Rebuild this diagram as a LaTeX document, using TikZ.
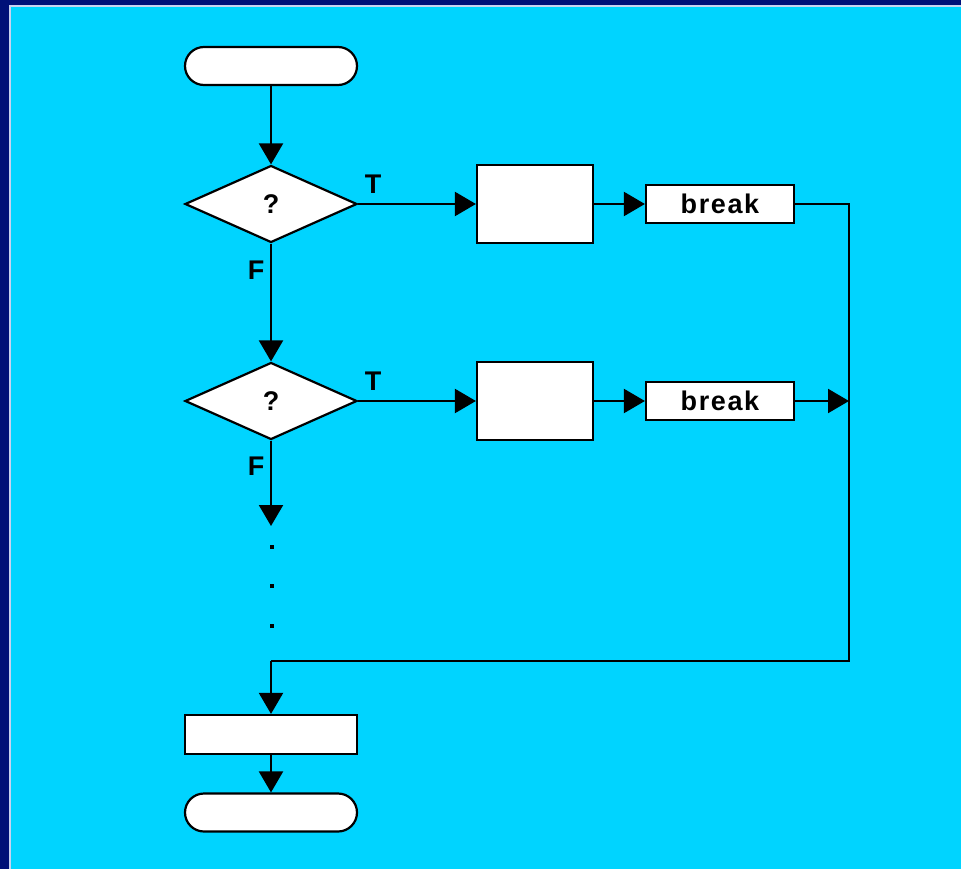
\documentclass[tikz,border=0pt]{standalone}
\usepackage{fontspec}
\setmainfont{Liberation Sans}
\newfontfamily\spacedfont[LetterSpace=6]{Liberation Sans}
\usetikzlibrary{shapes.geometric,arrows.meta}
\definecolor{navyb}{RGB}{0,16,120}
\definecolor{cyanbg}{RGB}{0,212,255}
\definecolor{edgeline}{RGB}{200,210,240}
\begin{document}
\begin{tikzpicture}[x=1pt,y=-1pt,
  every node/.style={font=\fontsize{27}{30}\selectfont\bfseries},
  term/.style={draw,fill=white,line width=2.2pt,minimum width=172pt,minimum height=38pt,rounded corners=19pt,inner sep=0pt},
  dia/.style={draw,fill=white,line width=2.2pt,diamond,minimum width=172pt,minimum height=77pt,inner sep=0pt},
  proc/.style={draw,fill=white,line width=2.2pt,minimum width=116pt,minimum height=78pt,inner sep=0pt},
  brk/.style={draw,fill=white,line width=2.2pt,minimum width=148pt,minimum height=38pt,inner sep=0pt,font=\fontsize{27}{30}\selectfont\spacedfont\bfseries},
  wide/.style={draw,fill=white,line width=2.2pt,minimum width=172pt,minimum height=39pt,inner sep=0pt},
  conn/.style={line width=2.2pt,-{Triangle[length=21pt,width=24pt]}},
  plain/.style={line width=2.2pt},
  lbl/.style={inner sep=0pt}]
\fill[navyb] (0,0) rectangle (961,869);
\fill[edgeline] (9,5) rectangle (961,869);
\fill[cyanbg] (11,7) rectangle (961,869);
\useasboundingbox (0,0) rectangle (961,869);

\node[term] (start) at (271,66) {};
\node[dia] (d1) at (271,204) {?};
\node[proc] (p1) at (535,204) {};
\node[brk] (b1) at (720,204) {break};
\node[dia] (d2) at (271,401) {?};
\node[proc] (p2) at (535,401) {};
\node[brk] (b2) at (720,401) {break};
\node[wide] (last) at (271,734.5) {};
\node[term] (stop) at (271,812.5) {};

\node[lbl] (t1) at (373,184) {T};
\node[lbl] (f1) at (256,270) {F};
\node[lbl] (t2) at (373,381) {T};
\node[lbl] (f2) at (256,466) {F};

\coordinate (c1) at (849,204);
\coordinate (c2) at (849,661);
\coordinate (c3) at (271,661);
\coordinate (c4) at (849,401);
\coordinate (c5) at (271,526);

\draw[conn] (start) -- (d1);
\draw[conn] (d1.east) -- (p1.west);
\draw[conn] (p1.east) -- (b1.west);
\draw[conn] (d1) -- (d2);
\draw[conn] (d2.east) -- (p2.west);
\draw[conn] (p2.east) -- (b2.west);
\draw[plain] (b1.east) -- (c1) -- (c2) -- (c3);
\draw[conn] (c3) -- (last);
\draw[conn] (b2.east) -- (c4);
\draw[conn] (d2) -- (c5);
\draw[conn] (last) -- (stop);

\node[fill=black,inner sep=0pt,minimum size=4pt] (dot1) at (272,547) {};
\node[fill=black,inner sep=0pt,minimum size=4pt] (dot2) at (272,586) {};
\node[fill=black,inner sep=0pt,minimum size=4pt] (dot3) at (272,626) {};
\end{tikzpicture}
\end{document}
